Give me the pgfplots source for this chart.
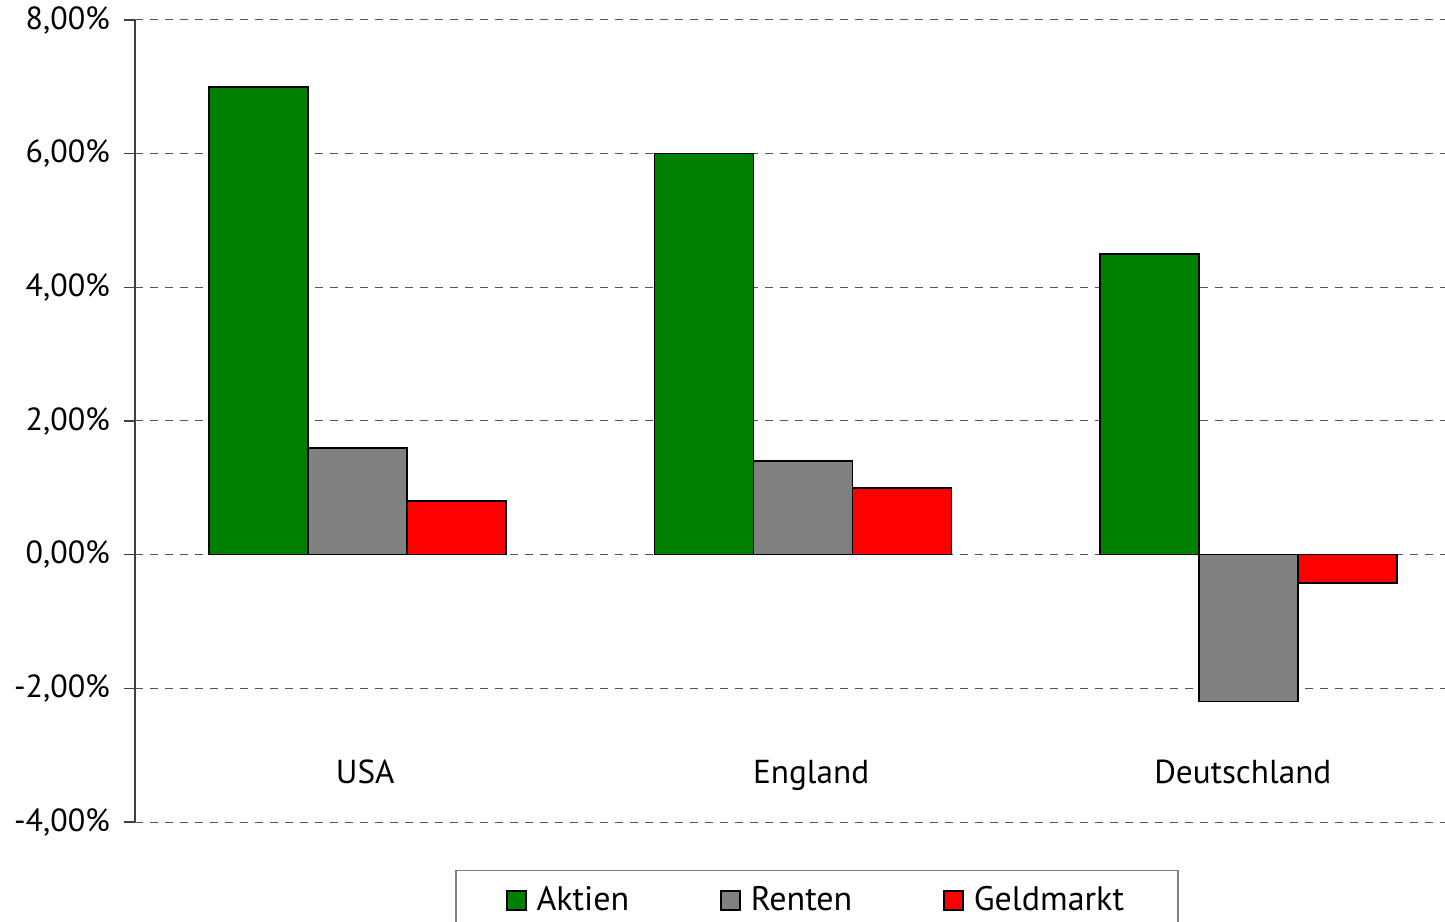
\documentclass[border=0pt]{standalone}
\usepackage{fontspec}
\setmainfont{PT Sans}
\usepackage{pgfplots}
\pgfplotsset{compat=1.18}
\definecolor{cAktien}{HTML}{008000}
\definecolor{cRenten}{HTML}{808080}
\definecolor{cGeld}{HTML}{FF0000}
\definecolor{axisgray}{HTML}{404040}
\definecolor{gridgray}{HTML}{555555}
\begin{document}
\begin{tikzpicture}
\useasboundingbox (-67.5pt,-49.5pt) rectangle (655pt,411pt);
\begin{axis}[
  at={(0pt,0pt)}, anchor=south west,
  scale only axis, width=655pt, height=401pt,
  xmin=-0.5, xmax=2.441, ymin=-4, ymax=8,
  ybar=0pt, bar width=49.5pt,
  xtick={0.017,1.018,1.987}, xticklabels={USA,England,Deutschland},
  x tick label style={anchor=base, yshift=25pt, font=\fontsize{16.6}{19}\selectfont},
  xtick style={draw=none},
  ytick={-4,-2,0,2,4,6,8},
  yticklabels={{-4,00\%},{-2,00\%},{0,00\%},{2,00\%},{4,00\%},{6,00\%},{8,00\%}},
  y tick label style={xshift=-3.5pt, font=\fontsize{16}{19}\selectfont},
  ymajorgrids,
  grid style={gridgray, line width=0.5pt, dash pattern=on 4pt off 3.5pt},
  axis x line*=bottom, axis y line*=left,
  x axis line style={draw=none},
  y axis line style={-, axisgray, line width=0.6pt},
  ytick style={axisgray, line width=0.6pt},
  tick align=outside, major tick length=5.5pt,
  legend style={at={(0.5206,0)}, anchor=north, yshift=-24pt,
    legend columns=3, draw=gray, line width=0.6pt,
    font=\fontsize{17}{20}\selectfont, inner xsep=25pt, inner ysep=6pt,
    /tikz/every even column/.append style={column sep=43.5pt}},
  legend image code/.code={\draw[#1, line width=0.8pt] (0pt,-4.75pt) rectangle (9.5pt,4.75pt); \path (12.5pt,0pt);},
  every axis plot/.append style={draw=black, line width=0.8pt},
]
\addplot[fill=cAktien] coordinates {(0,7.0) (1,6.0) (2,4.5)};
\addplot[fill=cRenten] coordinates {(0,1.6) (1,1.4) (2,-2.2)};
\addplot[fill=cGeld] coordinates {(0,0.8) (1,1.0) (2,-0.42)};
\legend{Aktien,Renten,Geldmarkt}
\end{axis}
\end{tikzpicture}
\end{document}
